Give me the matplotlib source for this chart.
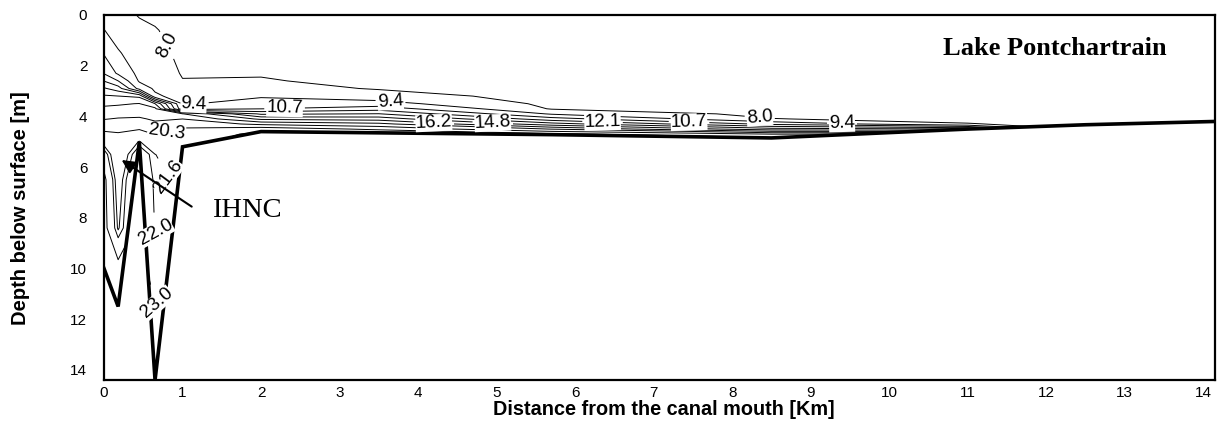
import numpy as np
import matplotlib
matplotlib.use('Agg')
import matplotlib.pyplot as plt

plt.rcParams['font.family'] = ['Liberation Sans', 'DejaVu Sans']

# ---------------- data ----------------
station_km = [0.0, 0.18, 0.45, 0.65, 1.0, 2.0, 3.5, 5.7, 8.5, 11.0, 12.5, 14.15]
depth_m = [0, 0.6, 1.5, 2.3, 2.6, 2.9, 3.2, 3.5, 3.7, 3.9, 4.1, 4.3, 4.5, 4.7,
           5.0, 5.5, 6.5, 8.4, 10, 12, 14.4]

# salinity profile at each station (values at depth_m)
sal_0_00 = [8.6, 9.4, 10.6, 12.0, 13.4, 15.0, 16.35, 17.3, 17.8, 18.3, 18.85, 19.4, 20.0, 20.6, 21.3, 22.4, 23.3, 23.4, 23.5, 23.5, 23.5]
sal_0_18 = [8.3, 8.7, 9.5, 10.5, 12.1, 14.1, 16.2, 17.4, 17.9, 18.5, 19.0, 19.5, 19.95, 20.4, 20.6, 20.8, 21.2, 21.55, 23.4, 23.5, 23.5]
sal_0_45 = [7.95, 8.2, 8.6, 9.0, 9.2, 10.2, 15.9, 17.6, 17.9, 18.5, 19.1, 19.6, 20.2, 20.9, 21.7, 22.6, 23.3, 23.4, 23.5, 23.5, 23.5]
sal_0_65 = [7.7, 8.1, 8.5, 8.8, 8.95, 9.15, 9.6, 16.2, 17.9, 18.3, 18.7, 19.2, 19.7, 20.2, 20.8, 21.65, 21.8, 21.95, 22.4, 23.3, 23.5]
sal_1_0 = [7.2, 7.4, 7.65, 7.9, 8.05, 8.4, 8.8, 9.2, 9.6, 17.6, 18.9, 19.8, 20.4, 20.7, 21.0, 21.3, 21.5, 22.1, 22.6, 23.1, 23.5]
sal_2_0 = [7.0, 7.2, 7.5, 7.9, 8.1, 8.5, 9.2, 10.0, 10.7, 13.2, 15.9, 18.6, 21.1, 22.0, 22.5, 23.0, 23.3, 23.5, 23.5, 23.5, 23.5]
sal_3_5 = [6.9, 7.0, 7.2, 7.5, 7.65, 7.9, 8.6, 9.9, 11.5, 13.5, 15.6, 17.9, 20.0, 21.8, 22.5, 23.0, 23.3, 23.5, 23.5, 23.5, 23.5]
sal_5_7 = [6.8, 6.85, 6.95, 7.1, 7.2, 7.35, 7.5, 7.7, 7.9, 9.2, 11.3, 14.0, 17.5, 20.6, 22.3, 23.0, 23.3, 23.5, 23.5, 23.5, 23.5]
sal_8_5 = [6.7, 6.75, 6.8, 6.9, 6.95, 7.0, 7.1, 7.2, 7.4, 7.6, 8.05, 10.4, 14.0, 18.9, 22.0, 23.0, 23.3, 23.5, 23.5, 23.5, 23.5]
sal_11_0 = [6.6, 6.65, 6.7, 6.8, 6.85, 6.9, 7.0, 7.1, 7.2, 7.35, 7.5, 8.1, 13.5, 19.0, 22.0, 23.0, 23.3, 23.5, 23.5, 23.5, 23.5]
sal_12_5 = [6.5, 6.55, 6.6, 6.65, 6.7, 6.75, 6.8, 6.9, 7.0, 7.1, 7.2, 7.4, 7.7, 9.0, 12.0, 15.0, 19.0, 22.0, 23.0, 23.5, 23.5]
sal_14_15 = [6.4, 6.45, 6.5, 6.55, 6.6, 6.65, 6.7, 6.75, 6.8, 6.9, 7.0, 7.2, 7.5, 8.0, 9.5, 12.0, 16.0, 20.0, 22.0, 23.0, 23.5]

contour_levels = [8.0, 9.36, 10.73, 12.09, 13.45, 14.82, 16.18, 17.55,
                  18.91, 20.27, 21.64, 22.0, 23.0]

# bottom of the canal / lake
bottom_km = [0.0, 0.18, 0.45, 0.65, 1.0, 2.0, 5.7, 8.5, 11.0, 12.5, 14.15]
bottom_depth = [10.0, 11.5, 5.0, 14.4, 5.2, 4.6, 4.72, 4.85, 4.5, 4.33, 4.2]

x_ticks = list(range(0, 15))
y_ticks = list(range(0, 15, 2))

# ---------------- figure ----------------
W, H = 1219, 421
fig = plt.figure(figsize=(W / 100, H / 100), dpi=100)
ax = fig.add_axes([104 / W, 1 - 380 / H, (1215 - 104) / W, 365 / H])

S = np.array([sal_0_00, sal_0_18, sal_0_45, sal_0_65, sal_1_0, sal_2_0, sal_3_5,
              sal_5_7, sal_8_5, sal_11_0, sal_12_5, sal_14_15]).T

label_spots = {
    8.0: [(0.8, 1.2), (8.35, 4.1)],
    9.36: [(1.15, 3.68), (3.65, 3.37), (9.4, 4.22)],
    10.73: [(2.3, 3.70), (7.45, 4.32)],
    12.09: [(6.35, 4.17)],
    14.82: [(4.95, 4.34)],
    16.18: [(4.2, 4.27)],
    20.27: [(0.79, 4.55)],
    21.64: [(0.85, 6.3)],
    22.0: [(0.66, 8.6)],
    23.0: [(0.68, 11.3)],
}

label_texts = []
for lv in contour_levels:
    cs = ax.contour(station_km, depth_m, S, levels=[lv],
                    colors='black', linewidths=0.7, zorder=1)
    if lv in label_spots:
        txt = cs.clabel(manual=label_spots[lv], inline=True, inline_spacing=2,
                        fontsize=13.5, fmt='%.1f', zorder=5)
        label_texts.extend(txt)
for t in label_texts:
    t.set_bbox(dict(facecolor='white', edgecolor='none', pad=0))

# hide everything below the bottom and draw the bottom line
ax.fill_between(bottom_km, bottom_depth, 14.4, color='white', zorder=2, lw=0)
ax.plot(bottom_km, bottom_depth, color='black', lw=2.6, zorder=3,
        solid_joinstyle='miter')

ax.set_xlim(0, 14.15)
ax.set_ylim(14.4, 0)
ax.set_xticks(x_ticks)
ax.set_yticks(y_ticks)
ax.tick_params(axis='both', length=0, labelsize=11)
ax.tick_params(axis='x', pad=4)
ax.tick_params(axis='y', pad=12)
for sp in ax.spines.values():
    sp.set_linewidth(1.6)
    sp.set_zorder(6)

fig.text(664 / W, 1 - 415 / H, 'Distance from the canal mouth [Km]',
         ha='center', va='baseline', fontsize=14.3, fontweight='bold')
fig.text(21 / W, 1 - 208 / H, 'Depth below surface [m]', rotation=90,
         ha='center', va='center', fontsize=14.5, fontweight='bold')

ax.text(0.856, (380 - 55) / 365, 'Lake Pontchartrain', transform=ax.transAxes,
        ha='center', va='baseline', fontsize=19, fontweight='bold',
        family=['Liberation Serif', 'DejaVu Serif'])
ax.text(1.82, 7.73, 'IHNC', ha='center', va='center', fontsize=20.5,
        family=['Liberation Serif', 'DejaVu Serif'], zorder=6)
ax.annotate('', xy=(0.225, 5.72), xytext=(1.117, 7.56),
            arrowprops=dict(arrowstyle='-|>', color='black', lw=1.5,
                            mutation_scale=20, shrinkA=0, shrinkB=0),
            zorder=6)

fig.savefig('out.png', dpi=100)
